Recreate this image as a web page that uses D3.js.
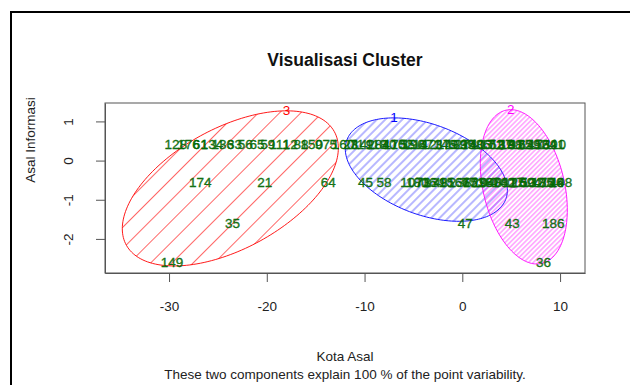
<!DOCTYPE html>
<html>
<head>
<meta charset="utf-8">
<script src="https://cdn.jsdelivr.net/npm/d3@7"></script>
<style>
  body { margin: 0; background: #fff; }
  svg { display: block; font-family: "Liberation Sans", Arial, sans-serif; }
</style>
</head>
<body>
<svg id="chart" width="630" height="385"></svg>
<script>
const title = 'Visualisasi Cluster';
const xLabel = 'Kota Asal';
const yLabel = 'Asal Informasi';
const subLabel = 'These two components explain 100 % of the point variability.';

const xTicks = [-30, -20, -10, 0, 10];
const yTicks = [-2, -1, 0, 1];

// clusters: id, centre, spread and correlation of the covering ellipse
const clusterIds = ['3', '1', '2'];
const clusterCx = [-23.73, -3.68, 6.29];
const clusterCy = [-0.71, -0.23, -0.67];
const clusterSx = [11.05, 8.29, 4.45];
const clusterSy = [1.98, 1.32, 1.97];
const clusterRho = [0.52, -0.40, -0.30];

// points, by level on the second component
const row1Y = 0.40;
const row1X = [-29.3, -28.0, -26.8, -25.6, -24.5, -23.3, -22.2, -21.0, -19.9, -18.7, -17.6, -16.5,
  -15.4, -14.3, -13.2, -12.2, -11.4, -10.8, -10.1, -9.5, -8.8, -8.2, -7.5, -6.9, -6.2, -5.6, -5.0,
  -4.3, -3.7, -3.0, -2.4, -1.8, -1.2, -0.6, 0.0, 0.5, 1.0, 1.5, 2.0, 2.5, 3.0, 3.5, 4.0, 4.5, 5.0,
  5.5, 6.0, 6.5, 7.0, 7.5, 8.0, 8.5, 9.0, 9.5, 10.1];
const row1Labels = ['128', '176', '61', '134', '136', '33', '56', '65', '59', '111', '12', '88',
  '150', '97', '5', '160', '23', '71', '142', '9', '118', '84', '30', '175', '102', '55', '190',
  '14', '67', '121', '3', '146', '79', '183', '27', '99', '158', '40', '113', '6', '171', '52',
  '137', '19', '188', '91', '125', '62', '145', '17', '92', '164', '39', '110', '1'];

const row2Y = -0.55;
const row2X = [-26.8, -20.2, -13.7, -9.9, -8.0, -5.2, -4.6, -4.0, -3.4, -2.8, -2.2, -1.6, -1.0,
  -0.4, 0.2, 0.7, 1.2, 1.7, 2.2, 2.7, 3.2, 3.7, 4.2, 4.7, 5.2, 5.7, 6.2, 6.7, 7.2, 7.7, 8.2, 8.7,
  9.2, 9.7, 10.1];
const row2Labels = ['174', '21', '64', '45', '58', '107', '180', '73', '16', '131', '48', '95',
  '2', '166', '38', '77', '153', '29', '104', '187', '60', '8', '140', '82', '117', '25', '169',
  '50', '132', '4', '185', '70', '126', '44', '198'];

const row3Y = -1.6;
const row3X = [-23.5, 0.3, 5.1, 9.3];
const row3Labels = ['35', '47', '43', '186'];

const row4Y = -2.6;
const row4X = [-29.7, 8.3];
const row4Labels = ['149', '36'];

const clusterColors = ['#ff0000', '#0000ff', '#ff00ff'];
const hatchGap = [15, 6, 3.4];
const fontFamily = '"Liberation Sans", Arial, sans-serif';

const svg = d3.select('#chart');

const box = { left: 105, right: 585, top: 103, bottom: 273 };

const xScale = d3.scaleLinear().domain([-36.55, 12.55]).range([box.left, box.right]);
const yScale = d3.scaleLinear().domain([-2.87, 1.47]).range([box.bottom, box.top]);

// outer frame of the screenshot
svg.append('path')
  .attr('d', 'M11,385V12H630')
  .attr('fill', 'none')
  .attr('stroke', '#000')
  .attr('stroke-width', 2);

// hatch patterns
const defs = svg.append('defs');
clusterIds.forEach((id, i) => {
  const g = hatchGap[i];
  defs.append('pattern')
    .attr('id', 'hatch' + i)
    .attr('patternUnits', 'userSpaceOnUse')
    .attr('width', g)
    .attr('height', g)
    .attr('patternTransform', 'rotate(-45)')
    .append('line')
    .attr('x1', 0).attr('y1', g / 2)
    .attr('x2', g).attr('y2', g / 2)
    .attr('stroke', clusterColors[i])
    .attr('stroke-width', i === 0 ? 0.8 : 0.7)
    .attr('stroke-opacity', i === 0 ? 0.75 : 0.8);
});

const ellipsePoints = i => d3.range(0, 2 * Math.PI + 0.01, Math.PI / 90).map(t => [
  clusterCx[i] + clusterSx[i] * Math.cos(t),
  clusterCy[i] + clusterSy[i] * (clusterRho[i] * Math.cos(t)
    + Math.sqrt(1 - clusterRho[i] * clusterRho[i]) * Math.sin(t))
]);

const ellipseLine = d3.line()
  .x(d => xScale(d[0]))
  .y(d => yScale(d[1]))
  .curve(d3.curveLinearClosed);

const plot = svg.append('g');

clusterIds.forEach((id, i) => {
  plot.append('path')
    .attr('d', ellipseLine(ellipsePoints(i)))
    .attr('fill', `url(#hatch${i})`)
    .attr('stroke', clusterColors[i])
    .attr('stroke-width', 0.9);
});

// point labels
const points = [
  ...row1X.map((x, i) => ({ x, y: row1Y, label: row1Labels[i] })),
  ...row2X.map((x, i) => ({ x, y: row2Y, label: row2Labels[i] })),
  ...row3X.map((x, i) => ({ x, y: row3Y, label: row3Labels[i] })),
  ...row4X.map((x, i) => ({ x, y: row4Y, label: row4Labels[i] }))
];

plot.selectAll('text.pt')
  .data(points)
  .enter().append('text')
  .attr('class', 'pt')
  .attr('x', d => xScale(d.x))
  .attr('y', d => yScale(d.y))
  .attr('text-anchor', 'middle')
  .attr('dominant-baseline', 'central')
  .attr('font-size', 13.5)
  .attr('fill', '#0a6e0a')
  .attr('stroke', '#006400')
  .attr('stroke-width', 0.35)
  .attr('fill-opacity', 0.9)
  .text(d => d.label);

// cluster labels at the top of each ellipse
plot.selectAll('text.cl')
  .data(clusterIds)
  .enter().append('text')
  .attr('class', 'cl')
  .attr('x', (d, i) => xScale(clusterCx[i] + clusterRho[i] * clusterSx[i]))
  .attr('y', (d, i) => yScale(clusterCy[i] + clusterSy[i]))
  .attr('text-anchor', 'middle')
  .attr('dominant-baseline', 'central')
  .attr('font-size', 13.5)
  .attr('fill', (d, i) => clusterColors[i])
  .text(d => d);

// plot box
svg.append('rect')
  .attr('x', box.left)
  .attr('y', box.top)
  .attr('width', box.right - box.left)
  .attr('height', box.bottom - box.top)
  .attr('fill', 'none')
  .attr('stroke', '#555')
  .attr('stroke-width', 1);

const bottomAxis = d3.axisBottom(xScale).tickValues(xTicks).tickSize(9).tickSizeOuter(0)
  .tickPadding(19).tickFormat(d => String(d));
svg.append('g')
  .attr('transform', `translate(0,${box.bottom})`)
  .call(bottomAxis)
  .call(g => g.select('.domain').attr('stroke', '#555'))
  .call(g => g.selectAll('line').attr('stroke', '#555'))
  .call(g => g.selectAll('text').attr('font-size', 13.5).attr('fill', '#222')
    .attr('font-family', fontFamily));

const leftAxis = d3.axisLeft(yScale).tickValues(yTicks).tickSize(9).tickSizeOuter(0)
  .tickFormat(d => String(d));
svg.append('g')
  .attr('transform', `translate(${box.left},0)`)
  .call(leftAxis)
  .call(g => g.select('.domain').attr('stroke', '#555'))
  .call(g => g.selectAll('line').attr('stroke', '#555'))
  .call(g => g.selectAll('text')
    .attr('font-size', 13.5).attr('fill', '#222')
    .attr('font-family', fontFamily)
    .attr('x', 0).attr('y', 0).attr('dy', null)
    .attr('text-anchor', 'middle')
    .attr('dominant-baseline', 'central')
    .attr('transform', 'translate(-37,0) rotate(-90)'));

svg.append('text')
  .attr('x', (box.left + box.right) / 2)
  .attr('y', 60)
  .attr('text-anchor', 'middle')
  .attr('dominant-baseline', 'central')
  .attr('font-size', 17.5)
  .attr('font-weight', 'bold')
  .attr('fill', '#111')
  .text(title);

svg.append('text')
  .attr('x', (box.left + box.right) / 2)
  .attr('y', 356)
  .attr('text-anchor', 'middle')
  .attr('dominant-baseline', 'central')
  .attr('font-size', 13.5)
  .attr('fill', '#222')
  .text(xLabel);

svg.append('text')
  .attr('x', (box.left + box.right) / 2)
  .attr('y', 374)
  .attr('text-anchor', 'middle')
  .attr('dominant-baseline', 'central')
  .attr('font-size', 13.5)
  .attr('fill', '#222')
  .text(subLabel);

svg.append('text')
  .attr('transform', `translate(30,${(box.top + box.bottom) / 2 - 48}) rotate(-90)`)
  .attr('text-anchor', 'middle')
  .attr('dominant-baseline', 'central')
  .attr('font-size', 13.5)
  .attr('fill', '#222')
  .text(yLabel);
</script>
</body>
</html>
